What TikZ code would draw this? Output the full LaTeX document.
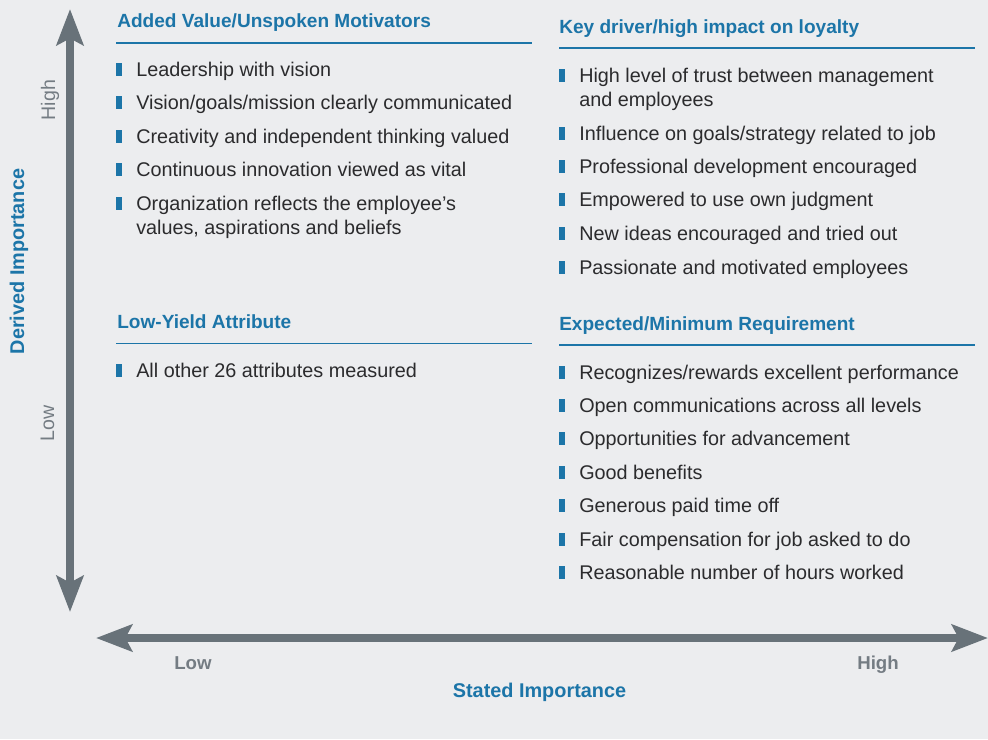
\documentclass[tikz,border=0pt]{standalone}
\usepackage{fontspec}
\setmainfont{Liberation Sans}
\usetikzlibrary{arrows.meta}

\definecolor{bgcol}{RGB}{236,237,239}
\definecolor{axisgray}{RGB}{104,114,121}
\definecolor{labelgray}{RGB}{116,124,131}
\definecolor{headblue}{RGB}{28,117,168}
\definecolor{txtcol}{RGB}{43,43,45}

\begin{document}
\begin{tikzpicture}[x=0.75pt,y=0.75pt,yscale=-1,xscale=1,
  axisarrow/.style={draw=axisgray,line width=6pt,
    {Stealth[length=27pt,width=20pt,inset=5pt]}-{Stealth[length=27pt,width=20pt,inset=5pt]}},
  heading/.style={anchor=base west,inner sep=0pt,text=headblue,font=\fontsize{14.3}{17}\selectfont\bfseries},
  headrule/.style={draw=headblue,line width=1.1pt},
  item/.style={anchor=base west,inner sep=0pt,text=txtcol,align=left,font=\fontsize{14.85}{18}\selectfont},
  bullet/.style={fill=headblue},
  axislabel/.style={anchor=base,inner sep=0pt,text=labelgray,font=\fontsize{14.7}{18}\selectfont},
  axisvalue/.style={anchor=base,inner sep=0pt,text=labelgray,font=\fontsize{14}{17}\selectfont\bfseries},
  axistitle/.style={anchor=base,inner sep=0pt,text=headblue,font=\fontsize{14.9}{17}\selectfont\bfseries}]

%background
\path [use as bounding box,fill=bgcol] (0,0) rectangle (988,739);

%Axes
\coordinate (ytop) at (70,9);
\coordinate (ybot) at (70,612);
\coordinate (xleft) at (96,638);
\coordinate (xright) at (988,638);
\draw [axisarrow] (ybot) -- (ytop);
\draw [axisarrow] (xleft) -- (xright);

% Axis labels
\node [axislabel,rotate=90] (yhigh) at (55,100) {High};
\node [axislabel,rotate=90] (ylow) at (54,423.5) {Low};
\node [axistitle,rotate=90] (ytitle) at (24,261.5) {Derived Importance};
\node [axisvalue] (xlow) at (193,669.5) {Low};
\node [axisvalue] (xhigh) at (878,669.5) {High};
\node [axistitle] (xtitle) at (539.5,697.5) {Stated Importance};

% Headings
\node [heading] (hadded) at (117,27.7) {Added Value/Unspoken Motivators};
\draw [headrule] (116,43) -- (532,43);
\node [heading] (hkey) at (559,33.7) {Key driver/high impact on loyalty};
\draw [headrule] (559,48) -- (975,48);
\node [heading] (hlow) at (117,328.7) {Low-Yield Attribute};
\draw [headrule] (116,343.5) -- (532,343.5);
\node [heading] (hexp) at (559,330.7) {Expected/Minimum Requirement};
\draw [headrule] (559,345) -- (975,345);

% Items, top left (\d = extra lines below the first)
\foreach \y/\d/\t [count=\i] in {69/0/{Leadership with vision},
    102/0/{Vision/goals/mission clearly communicated},
    136/0/{Creativity and independent thinking valued},
    169/0/{Continuous innovation viewed as vital},
    203/24/{Organization reflects the employee’s\\values, aspirations and beliefs}}{
  \fill [bullet] (116,\y-6.5) rectangle (122,\y+6.5);
  \node [item] (added\i) at (136,\y+7+\d) {\t};
}

% Items, top right
\foreach \y/\d/\t [count=\i] in {75/24/{High level of trust between management\\and employees},
    133/0/{Influence on goals/strategy related to job},
    166/0/{Professional development encouraged},
    199.5/0/{Empowered to use own judgment},
    233/0/{New ideas encouraged and tried out},
    267/0/{Passionate and motivated employees}}{
  \fill [bullet] (559,\y-6.5) rectangle (565,\y+6.5);
  \node [item] (key\i) at (579,\y+7+\d) {\t};
}

% Items, bottom left
\fill [bullet] (116,363.5) rectangle (122,376.5);
\node [item] (low1) at (136,377) {All other 26 attributes measured};

% Items, bottom right
\foreach \y/\t [count=\i] in {372/{Recognizes/rewards excellent performance},
    405/{Open communications across all levels},
    438.5/{Opportunities for advancement},
    472/{Good benefits},
    505/{Generous paid time off},
    539/{Fair compensation for job asked to do},
    572.5/{Reasonable number of hours worked}}{
  \fill [bullet] (559,\y-6.5) rectangle (565,\y+6.5);
  \node [item] (exp\i) at (579,\y+7) {\t};
}

\end{tikzpicture}
\end{document}
